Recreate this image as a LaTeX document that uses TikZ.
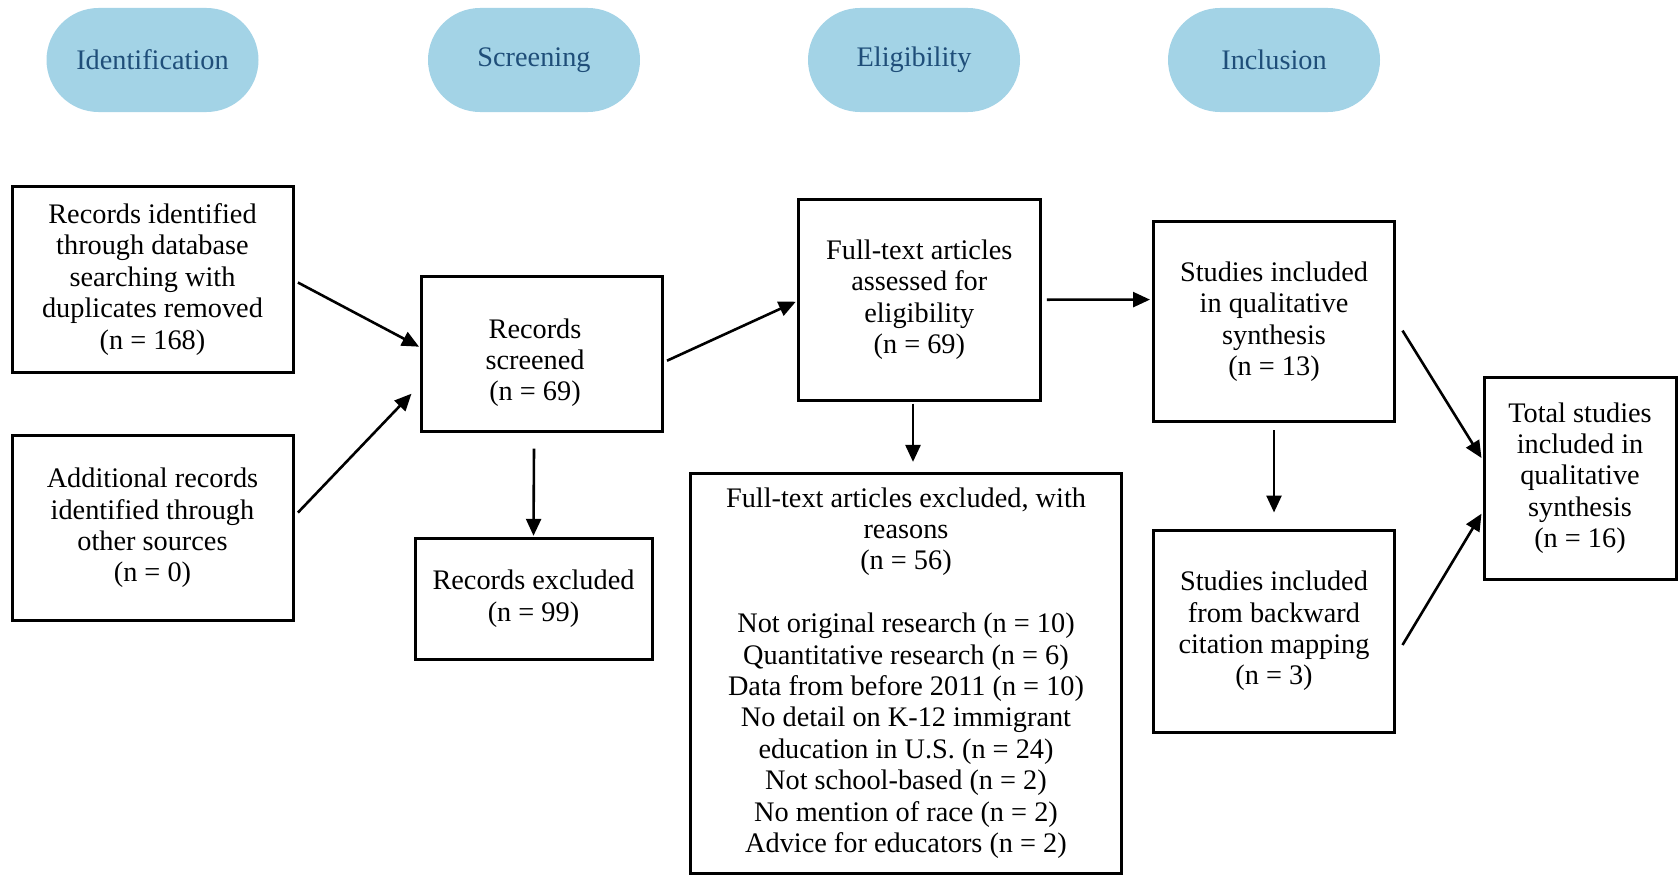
\documentclass[tikz,border=0pt]{standalone}
\usepackage{fontspec}
\setmainfont{Liberation Serif}
\usetikzlibrary{arrows.meta,calc}
\definecolor{pillfill}{HTML}{A3D3E6}
\definecolor{pilltext}{HTML}{1F4E79}
\begin{document}
\begin{tikzpicture}[x=1pt,y=-1pt,
  every node/.style={font=\fontsize{28.3}{31.4}\selectfont},
  pill/.style={fill=pillfill, text=pilltext, rounded corners=52pt, minimum width=212pt, minimum height=104pt, inner sep=0pt},
  box/.style={draw=black, line width=3pt, align=center, inner sep=0pt},
  boxtext/.style={align=center, inner sep=0pt},
  arr/.style={line width=2.6pt, -{Triangle[length=17pt,width=15pt]}}
]
\useasboundingbox (0,0) rectangle (1678,875);
% phase pills
\node[pill] (p1) at (152.5,60) {Identification};
\node[pill] (p2) at (534,60) {Screening};
\node[pill] (p3) at (914,60) {Eligibility};
\node[pill] (p4) at (1274,60) {Inclusion};
% boxes
\node[box, minimum width=281pt, minimum height=186pt] (A) at (152.5,279.3)
  {Records identified\\through database\\searching with\\duplicates removed\\(n = 168)};
\node[box, minimum width=281pt, minimum height=185pt] (B) at (152.5,528)
  {Additional records\\identified through\\other sources\\(n = 0)};
\node[box, minimum width=241pt, minimum height=155pt] (C) at (542,353.7) {};
\node[boxtext] (Ct) at ($(C.center)+(-7,9)$) {Records\\screened\\(n = 69)};
\node[box, minimum width=237pt, minimum height=121pt] (D) at (533.5,598.8)
  {Records excluded\\(n = 99)};
\node[box, minimum width=242pt, minimum height=201pt] (E) at (919.3,299.7)
  {Full-text articles\\assessed for\\eligibility\\(n = 69)};
\node[box, minimum width=431pt, minimum height=400pt] (F) at (906,673)
  {Full-text articles excluded, with\\reasons\\(n = 56)\\[31.4pt]
   Not original research (n = 10)\\Quantitative research (n = 6)\\Data from before 2011 (n = 10)\\No detail on K-12 immigrant\\education in U.S. (n = 24)\\Not school-based (n = 2)\\No mention of race (n = 2)\\Advice for educators (n = 2)};
\node[box, minimum width=241pt, minimum height=200pt] (G) at (1274,321.6)
  {Studies included\\in qualitative\\synthesis\\(n = 13)};
\node[box, minimum width=241pt, minimum height=202pt] (H) at (1274,631)
  {Studies included\\from backward\\citation mapping\\(n = 3)};
\node[box, minimum width=192pt, minimum height=202pt] (I) at (1580,478)
  {Total studies\\included in\\qualitative\\synthesis\\(n = 16)};
% connectors
\draw[arr] ($(A.east)+(3.4,3.2)$) -- ($(C.west)+(-1,-7)$);
\draw[arr] ($(B.east)+(3.4,-15.4)$) -- ($(C.west)+(-8.5,40)$);
\draw[arr] ($(C.south)+(-8,16)$) -- ($(D.north)+(0,-1)$);
\draw[arr] ($(C.east)+(3,7)$) -- ($(E.west)+(-1,2)$);
\draw[arr] ($(E.south)+(-6.3,2)$) -- ($(F.north)+(7,-9.6)$);
\draw[arr] ($(E.east)+(5,0)$) -- ($(G.west)+(-2,-22)$);
\draw[arr] ($(G.south)+(0,7)$) -- ($(H.north)+(0,-16)$);
\draw[arr] ($(G.east)+(6.5,9)$) -- ($(I.west)+(-1,-20)$);
\draw[arr] ($(H.east)+(6.5,14)$) -- ($(I.west)+(-1,35.7)$);
\end{tikzpicture}
\end{document}
